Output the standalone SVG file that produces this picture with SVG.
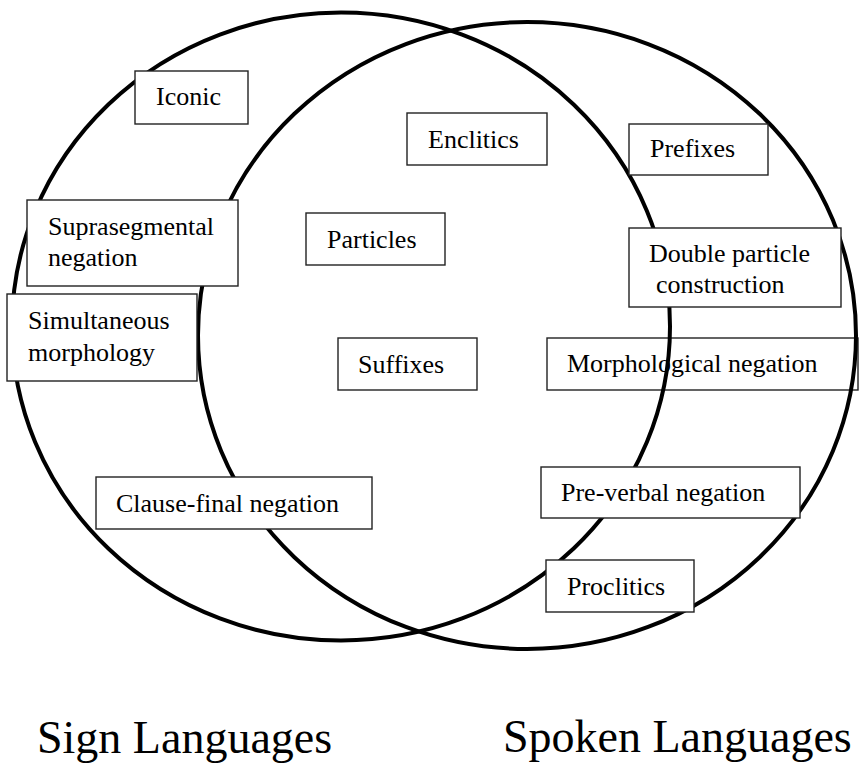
<svg xmlns="http://www.w3.org/2000/svg" width="859" height="763" viewBox="0 0 859 763">
<style>
.bg{fill:#ffffff}
.set{fill:none;stroke:#000;stroke-width:4}
.box{fill:#ffffff;stroke:#222;stroke-width:1.4}
.lbl{font-family:"Liberation Serif","Times New Roman",serif;font-size:26px;fill:#000}
.title{font-family:"Liberation Serif","Times New Roman",serif;font-size:46px;fill:#000}
</style>
<rect class="bg" x="0" y="0" width="859" height="763"/>
<g id="node-morphological-negation">
<rect class="box" x="547" y="338" width="311" height="52"/>
<text class="lbl" x="567" y="372">Morphological negation</text>
</g>
<g id="sets">
<ellipse id="set-sign" class="set" cx="341" cy="326.5" rx="329" ry="314"/>
<ellipse id="set-spoken" class="set" cx="527" cy="335.5" rx="329" ry="313.5"/>
</g>
<g id="node-iconic">
<rect class="box" x="135" y="71" width="113" height="53"/>
<text class="lbl" x="156" y="105">Iconic</text>
</g>
<g id="node-enclitics">
<rect class="box" x="407" y="113" width="140" height="52"/>
<text class="lbl" x="428" y="148">Enclitics</text>
</g>
<g id="node-prefixes">
<rect class="box" x="629" y="124" width="139" height="51"/>
<text class="lbl" x="650" y="157">Prefixes</text>
</g>
<g id="node-suprasegmental-negation">
<rect class="box" x="27" y="200" width="211" height="86"/>
<text class="lbl" x="48" y="235">Suprasegmental</text>
<text class="lbl" x="48" y="266">negation</text>
</g>
<g id="node-particles">
<rect class="box" x="306" y="213" width="139" height="52"/>
<text class="lbl" x="327" y="248">Particles</text>
</g>
<g id="node-double-particle-construction">
<rect class="box" x="629" y="228" width="212" height="79"/>
<text class="lbl" x="649" y="262">Double particle</text>
<text class="lbl" x="656" y="293">construction</text>
</g>
<g id="node-simultaneous-morphology">
<rect class="box" x="7" y="294" width="190" height="87"/>
<text class="lbl" x="28" y="329">Simultaneous</text>
<text class="lbl" x="28" y="361">morphology</text>
</g>
<g id="node-suffixes">
<rect class="box" x="338" y="338" width="139" height="52"/>
<text class="lbl" x="358" y="373">Suffixes</text>
</g>
<g id="node-pre-verbal-negation">
<rect class="box" x="541" y="467" width="259" height="51"/>
<text class="lbl" x="561" y="501">Pre-verbal negation</text>
</g>
<g id="node-clause-final-negation">
<rect class="box" x="96" y="477" width="276" height="52"/>
<text class="lbl" x="116" y="512">Clause-final negation</text>
</g>
<g id="node-proclitics">
<rect class="box" x="546" y="560" width="148" height="52"/>
<text class="lbl" x="567" y="595">Proclitics</text>
</g>
<g id="titles">
<text class="title" x="37" y="753">Sign Languages</text>
<text class="title" x="503" y="752">Spoken Languages</text>
</g>
</svg>
